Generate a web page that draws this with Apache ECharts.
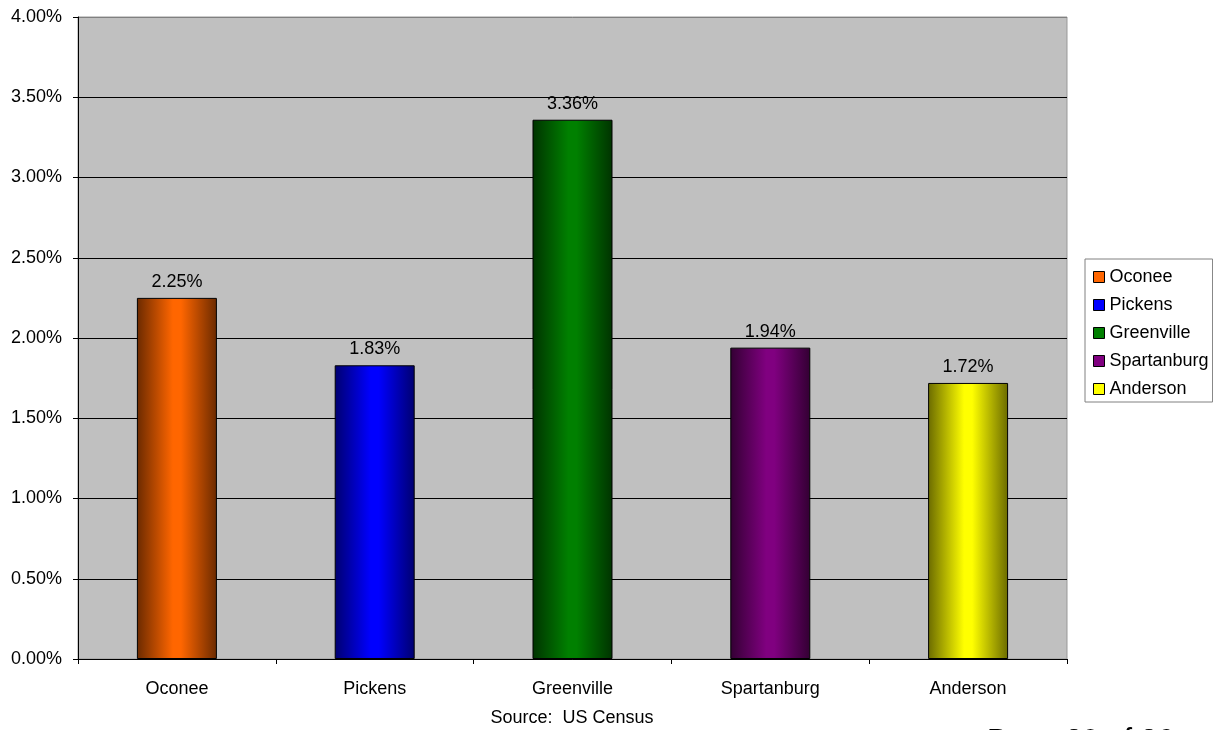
<!DOCTYPE html>
<html>
<head>
<meta charset="utf-8">
<script src="https://cdn.jsdelivr.net/npm/echarts@6/dist/echarts.min.js"></script>
<style>
html,body{margin:0;padding:0;background:#fff;}
#chart{width:1213px;height:730px;}
</style>
</head>
<body>
<div id="chart"></div>
<script>
const categories = ['Oconee', 'Pickens', 'Greenville', 'Spartanburg', 'Anderson'];
const values = [2.25, 1.83, 3.36, 1.94, 1.72];
const baseColors = ['#FF6600', '#0000FF', '#008000', '#800080', '#FFFF00'];
const darkColors = ['#6B2A00', '#000070', '#003300', '#330033', '#6B6B00'];
const yTicks = { min: 0, max: 4, interval: 0.5 };
const sourceText = 'Source:  US Census';
const pageText = 'Page 20 of 26';

const FONT = 'Liberation Sans, Arial, sans-serif';
const FS = 18;

const series = categories.map((name, i) => ({
  name: name,
  type: 'bar',
  stack: 'all',
  barWidth: 80,
  data: categories.map((c, j) => (j === i ? values[i] : '-')),
  itemStyle: {
    color: {
      type: 'linear', x: 0, y: 0, x2: 1, y2: 0,
      colorStops: [
        { offset: 0, color: darkColors[i] },
        { offset: 0.45, color: baseColors[i] },
        { offset: 0.55, color: baseColors[i] },
        { offset: 1, color: darkColors[i] }
      ]
    },
    borderColor: '#000',
    borderWidth: 1
  },
  label: {
    show: true,
    position: 'top',
    distance: 7,
    color: '#000',
    fontFamily: FONT,
    fontSize: FS,
    formatter: p => p.value.toFixed(2) + '%'
  }
}));

const splitColors = [];
for (let v = yTicks.min; v <= yTicks.max + 1e-9; v += yTicks.interval) splitColors.push('#000');
splitColors[splitColors.length - 1] = '#808080';

const chart = echarts.init(document.getElementById('chart'));
chart.setOption({
  animation: false,
  backgroundColor: '#fff',
  grid: {
    left: 78, right: 146, top: 17, bottom: 71,
    show: true,
    backgroundColor: '#C0C0C0',
    borderColor: '#999',
    borderWidth: 1
  },
  legend: {
    orient: 'vertical',
    left: 1085, top: 259,
    padding: [9, 4, 4, 8],
    backgroundColor: '#fff',
    borderColor: '#808080',
    borderWidth: 1,
    borderRadius: 0,
    itemWidth: 11, itemHeight: 11,
    itemGap: 10,
    icon: 'rect',
    textStyle: { fontFamily: FONT, fontSize: FS, color: '#000', lineHeight: 18 },
    data: categories.map((c, i) => ({
      name: c,
      itemStyle: { color: baseColors[i], borderColor: '#000', borderWidth: 1 }
    }))
  },
  xAxis: {
    type: 'category',
    data: categories,
    axisLine: { show: true, lineStyle: { color: '#000', width: 1 } },
    axisTick: { show: true, length: 5, alignWithLabel: false, lineStyle: { color: '#000' } },
    axisLabel: { margin: 21, color: '#000', fontFamily: FONT, fontSize: FS },
    splitLine: { show: false }
  },
  yAxis: {
    type: 'value',
    min: yTicks.min, max: yTicks.max, interval: yTicks.interval,
    axisLine: { show: true, lineStyle: { color: '#000', width: 1 } },
    axisTick: { show: true, length: 5, lineStyle: { color: '#000' } },
    axisLabel: { margin: 16, color: '#000', fontFamily: FONT, fontSize: FS, formatter: v => v.toFixed(2) + '%' },
    splitLine: { show: true, lineStyle: { color: splitColors, width: 1 } }
  },
  graphic: [
    { type: 'text', x: 572, y: 718, style: { text: sourceText, fontFamily: FONT, fontSize: FS, fill: '#000', textAlign: 'center', textVerticalAlign: 'middle' } },
    { type: 'text', x: 987, y: 726, style: { text: pageText, fontFamily: FONT, fontSize: 30, fill: '#000', textAlign: 'left', textVerticalAlign: 'top' } }
  ],
  series: series
});
</script>
</body>
</html>
